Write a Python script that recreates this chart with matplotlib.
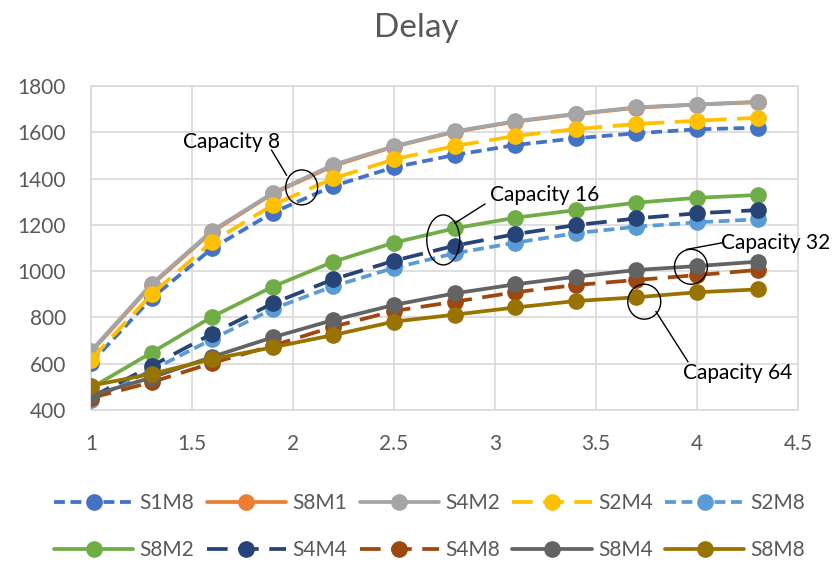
import matplotlib
matplotlib.use("Agg")
import matplotlib.pyplot as plt
from matplotlib.patches import Ellipse

plt.rcParams['font.family'] = ['Lato', 'DejaVu Sans']

x = [1, 1.3, 1.6, 1.9, 2.2, 2.5, 2.8, 3.1, 3.4, 3.7, 4.0, 4.3]

s1m8 = [603, 883, 1099, 1253, 1368, 1449, 1502, 1545, 1574, 1596, 1613, 1620]
s8m1 = [650, 940, 1170, 1335, 1455, 1538, 1602, 1646, 1678, 1706, 1720, 1730]
s4m2 = [655, 945, 1175, 1338, 1460, 1540, 1604, 1648, 1680, 1708, 1720, 1732]
s2m4 = [618, 900, 1127, 1286, 1401, 1483, 1541, 1584, 1614, 1636, 1650, 1663]
s2m8 = [443, 572, 706, 837, 935, 1014, 1077, 1123, 1164, 1192, 1211, 1224]
s8m2 = [495, 648, 803, 933, 1041, 1123, 1185, 1231, 1264, 1296, 1317, 1329]
s4m4 = [455, 590, 730, 861, 965, 1045, 1110, 1160, 1199, 1228, 1250, 1264]
s4m8 = [452, 520, 603, 678, 760, 828, 868, 909, 940, 962, 983, 1005]
s8m4 = [463, 540, 630, 714, 789, 854, 904, 943, 976, 1005, 1022, 1041]
s8m8 = [505, 556, 620, 671, 724, 782, 812, 843, 871, 887, 909, 921]

short_dash = (2.9, 1.5)
long_dash = (5.5, 2.8)

series = [
    ("S1M8", s1m8, "#4472C4", short_dash),
    ("S8M1", s8m1, "#ED7D31", None),
    ("S4M2", s4m2, "#A5A5A5", None),
    ("S2M4", s2m4, "#FFC000", long_dash),
    ("S2M8", s2m8, "#5B9BD5", short_dash),
    ("S8M2", s8m2, "#70AD47", None),
    ("S4M4", s4m4, "#264478", long_dash),
    ("S4M8", s4m8, "#9E480E", long_dash),
    ("S8M4", s8m4, "#636363", None),
    ("S8M8", s8m8, "#997300", None),
]

fig = plt.figure(figsize=(8.33, 5.66), dpi=100)
ax = fig.add_axes([0.1092, 0.2756, 0.8488, 0.5724])

lines = []
for i, (name, vals, col, dash) in enumerate(series):
    line, = ax.plot(x, vals, color=col, lw=2.7, marker='o', markersize=11,
                    label=name, zorder=3 + i, solid_capstyle='round',
                    dash_capstyle='butt')
    if dash is not None:
        line.set_dashes(dash)
    lines.append(line)

ax.set_xlim(1, 4.5)
ax.set_ylim(400, 1800)
ax.set_xticks([1, 1.5, 2, 2.5, 3, 3.5, 4, 4.5])
ax.set_xticklabels(["1", "1.5", "2", "2.5", "3", "3.5", "4", "4.5"])
ax.set_yticks(range(400, 1801, 200))
ax.grid(True, color="#D9D9D9", lw=1.2, zorder=0)
ax.set_axisbelow(True)
for sp in ax.spines.values():
    sp.set_color("#D9D9D9")
    sp.set_linewidth(1.2)
ax.tick_params(length=0, labelsize=15, labelcolor="#595959")
ax.tick_params(axis='x', pad=17)
ax.tick_params(axis='y', pad=18)

fig.text(0.5, 1 - 28 / 566, "Delay", ha='center', va='center',
         fontsize=24, color="#595959")

# annotations: ellipses around groups
notes = [
    ("Capacity 8", (1.698, 1559), (1.894, 1523), (1.968, 1415), (2.043, 1362), 0.158, 151),
    ("Capacity 16", (3.248, 1329), (2.950, 1290), (2.802, 1208), (2.744, 1135), 0.163, 216),
    ("Capacity 32", (4.391, 1120), (4.127, 1123), (3.949, 1094), (3.970, 1019), 0.163, 151),
    ("Capacity 64", (4.200, 559), (3.955, 609), (3.797, 825), (3.739, 868), 0.163, 151),
]
for txt, tpos, p0, p1, c, w, h in notes:
    ax.text(tpos[0], tpos[1], txt, ha='center', va='center', fontsize=15,
            color='black', zorder=20, clip_on=False)
    ax.plot([p0[0], p1[0]], [p0[1], p1[1]], color='black', lw=1, zorder=20,
            clip_on=False)
    ax.add_patch(Ellipse(c, w, h, fill=False, edgecolor='black', lw=1,
                         zorder=20))

# legend fills column by column, so reorder to read row by row
order = [0, 5, 1, 6, 2, 7, 3, 8, 4, 9]
fig.legend([lines[k] for k in order], [series[k][0] for k in order],
           loc='center', bbox_to_anchor=(0.516, 0.069), ncol=5, frameon=False,
           fontsize=15, handlelength=3.8, handletextpad=0.3,
           columnspacing=0.6, labelspacing=1.3, labelcolor="#595959")

fig.savefig("out.png", dpi=100)
